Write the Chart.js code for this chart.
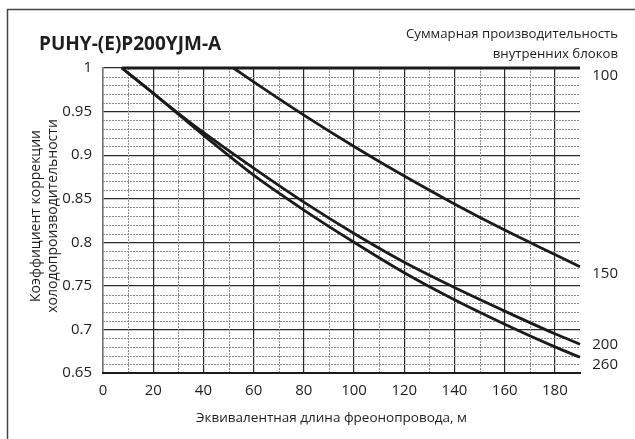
<!DOCTYPE html>
<html>
<head>
<meta charset="utf-8">
<script src="https://cdn.jsdelivr.net/npm/chart.js@4"></script>
<style>
  body { margin: 0; background: #fff; }
  canvas { display: block; }
</style>
</head>
<body>
<canvas id="myChart" width="635" height="439"></canvas>
<script>
// capacity-correction data
const xTicks = [0, 20, 40, 60, 80, 100, 120, 140, 160, 180];
const yTicks = [0.65, 0.7, 0.75, 0.8, 0.85, 0.9, 0.95, 1];
const seriesNames = ['100', '150', '200', '260'];

const len100 = [7.5, 190];
const val100 = [1, 1];
const len150 = [52, 60, 80, 100, 120, 140, 160, 180, 190];
const val150 = [1, 0.984, 0.946, 0.910, 0.876, 0.844, 0.814, 0.786, 0.772];
const len200 = [7.5, 20, 30, 40, 60, 80, 100, 120, 140, 160, 180, 190];
const val200 = [1, 0.971, 0.948, 0.926, 0.885, 0.846, 0.810, 0.777, 0.748, 0.721, 0.695, 0.683];
const len260 = [7.5, 20, 30, 40, 60, 80, 100, 120, 140, 160, 180, 190];
const val260 = [1, 0.971, 0.947, 0.923, 0.877, 0.837, 0.800, 0.765, 0.734, 0.706, 0.680, 0.668];

const FONT = '"Open Sans", "Noto Sans", sans-serif';

function pts(xs, ys) {
  return xs.map((x, i) => ({ x: x, y: ys[i] }));
}

function lineSet(label, xs, ys, width) {
  return {
    label: label,
    data: pts(xs, ys),
    borderColor: '#1b1b1b',
    borderWidth: width,
    pointRadius: 0,
    cubicInterpolationMode: 'monotone',
    fill: false,
    clip: 6
  };
}

// dotted minor grid + text around the plot
const extras = {
  id: 'extras',
  beforeDatasetsDraw(chart) {
    const c = chart.ctx, a = chart.chartArea;
    const xs = chart.scales.x, ys = chart.scales.y;
    c.save();
    c.strokeStyle = '#8a8a8a';
    c.lineWidth = 1;
    c.setLineDash([2, 1]);
    for (let v = 10; v < 190; v += 20) {
      const px = Math.round(xs.getPixelForValue(v)) + 0.5;
      c.beginPath(); c.moveTo(px, a.top); c.lineTo(px, a.bottom); c.stroke();
    }
    for (let k = 66; k < 100; k++) {
      if (k % 5 === 0) continue;
      const py = Math.round(ys.getPixelForValue(k / 100)) + 0.5;
      c.beginPath(); c.moveTo(a.left, py); c.lineTo(a.right, py); c.stroke();
    }
    c.restore();
  },
  afterDraw(chart) {
    const c = chart.ctx, a = chart.chartArea;
    const ys = chart.scales.y;
    c.save();
    // frame of the figure
    c.strokeStyle = '#444';
    c.lineWidth = 1.5;
    c.beginPath();
    c.moveTo(7.5, 439); c.lineTo(7.5, 9.5); c.lineTo(635, 9.5);
    c.stroke();
    // bottom axis line
    c.strokeStyle = '#1b1b1b';
    c.lineWidth = 2;
    c.beginPath(); c.moveTo(a.left - 1, a.bottom); c.lineTo(a.right + 1, a.bottom); c.stroke();

    c.fillStyle = '#1e1e1e';
    c.font = 'bold 19px ' + FONT;
    c.textAlign = 'left';
    c.textBaseline = 'middle';
    c.fillText('PUHY-(E)P200YJM-A', 39, 45);

    c.font = '13.2px ' + FONT;
    c.textAlign = 'right';
    c.fillText('Суммарная производительность', 618, 34);
    c.fillText('внутренних блоков', 618, 54);

    // series labels at line ends
    c.font = '15px ' + FONT;
    c.textAlign = 'right';
    const labelY = { '100': 1, '150': val150[val150.length - 1], '200': val200[val200.length - 1], '260': val260[val260.length - 1] };
    const shift = { '100': 8, '150': 7, '200': 0, '260': 7 };
    seriesNames.forEach(n => {
      c.fillText(n, 618, ys.getPixelForValue(labelY[n]) + shift[n]);
    });

    c.font = '13.5px ' + FONT;
    c.textAlign = 'center';
    c.fillText('Эквивалентная длина фреонопровода, м', (a.left + a.right) / 2 - 10, 418);

    c.save();
    c.translate(36, 216);
    c.rotate(-Math.PI / 2);
    c.font = '14px ' + FONT;
    c.fillText('Коэффициент коррекции', 0, 0);
    c.fillText('холодопроизводительности', 0, 17);
    c.restore();
    c.restore();
  }
};

const ctx = document.getElementById('myChart').getContext('2d');

new Chart(ctx, {
  type: 'line',
  data: {
    datasets: [
      lineSet(seriesNames[0], len100, val100, 3.2),
      lineSet(seriesNames[1], len150, val150, 2.8),
      lineSet(seriesNames[2], len200, val200, 2.8),
      lineSet(seriesNames[3], len260, val260, 2.8)
    ]
  },
  options: {
    responsive: false,
    animation: false,
    layout: { padding: { left: 0, top: 68, right: 55, bottom: 0 } },
    scales: {
      x: {
        type: 'linear',
        min: 0,
        max: 190,
        afterFit: s => { s.height = 66; },
        afterBuildTicks: s => { s.ticks = xTicks.map(v => ({ value: v })); },
        grid: {
          color: '#2a2a2a',
          lineWidth: 1.2,
          drawTicks: false
        },
        border: { display: false },
        ticks: {
          padding: 9,
          color: '#1e1e1e',
          font: { family: FONT, size: 15 }
        }
      },
      y: {
        min: 0.65,
        max: 1,
        afterFit: s => { s.width = 103; },
        afterBuildTicks: s => { s.ticks = yTicks.map(v => ({ value: v })); },
        grid: {
          color: ctx => (ctx.tick && ctx.tick.value === 0.65) ? 'rgba(0,0,0,0)' : '#2a2a2a',
          lineWidth: 1.2,
          drawTicks: false
        },
        border: { color: '#777', width: 1.5 },
        ticks: {
          padding: 11,
          color: '#1e1e1e',
          font: { family: FONT, size: 15 },
          callback: v => String(Number(v.toFixed(2)))
        }
      }
    },
    plugins: {
      legend: { display: false },
      tooltip: { enabled: false }
    }
  },
  plugins: [extras]
});
</script>
</body>
</html>
